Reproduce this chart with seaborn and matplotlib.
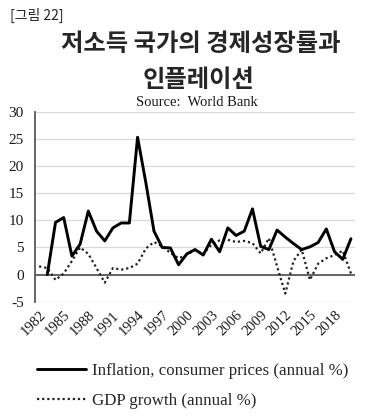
import numpy as np
import pandas as pd
import seaborn as sns
import matplotlib.pyplot as plt
from matplotlib.lines import Line2D

#%% data
years = list(range(1982, 2021))
inflation = [np.nan, 0.0, 9.6, 10.5, 3.4, 5.6, 11.7, 8.0, 6.2, 8.6,
             9.5, 9.5, 25.3, 17.0, 8.0, 5.0, 4.9, 1.8, 3.8, 4.6,
             3.6, 6.5, 4.2, 8.6, 7.2, 8.0, 12.1, 5.2, 4.6, 8.2,
             6.9, 5.7, 4.6, 5.1, 5.9, 8.4, 4.2, 2.8, 6.6]
gdp_growth = [1.5, 1.2, -1.0, 0.2, 2.5, 5.0, 3.8, 1.2, -1.5, 1.2,
              0.9, 1.2, 2.0, 4.8, 6.0, 5.2, 4.0, 3.0, 3.6, 4.6,
              3.8, 5.5, 6.3, 6.4, 6.0, 6.2, 5.8, 3.9, 6.7, 1.5,
              -3.5, 2.5, 4.6, -1.0, 2.0, 3.0, 3.6, 4.4, 0.2]
yticks = list(range(-5, 35, 5))
xtick_years = list(range(1982, 2019, 3))

df = pd.DataFrame({'Year': years, 'Inflation': inflation, 'GDP': gdp_growth})

#%% style
sns.set_theme(style='white')
plt.rcParams['font.family'] = ['Liberation Serif', 'DejaVu Serif']
plt.rcParams['axes.unicode_minus'] = False

fig = plt.figure(figsize=(3.71, 4.2), dpi=100)
ax = fig.add_axes([0.0943, 0.2817, 0.8627, 0.4523])

# gridlines + zero line
for v in yticks:
    ax.axhline(v, color='#d9d9d9', lw=0.9, zorder=0)
ax.axhline(0, color='#595959', lw=1.3, zorder=1)

sns.lineplot(data=df, x='Year', y='Inflation', ax=ax, color='black', lw=2.1,
             solid_joinstyle='round', solid_capstyle='round', zorder=3)
sns.lineplot(data=df, x='Year', y='GDP', ax=ax, color='#222222', lw=1.6,
             linestyle=(0, (1, 1.3)), dash_capstyle='butt', zorder=2)

ax.set_xlim(1981.5, 2020.5)
ax.set_ylim(-5, 30)
ax.set_yticks(yticks)
ax.set_yticklabels([str(v) for v in yticks], fontsize=11, color='#1a1a1a')
ax.set_xticks(xtick_years)
ax.set_xticklabels([str(y) for y in xtick_years], fontsize=10.5, rotation=45,
                   ha='right', va='top', rotation_mode='anchor', color='#1a1a1a')
ax.tick_params(axis='y', length=0, pad=8)
ax.tick_params(axis='x', length=0, pad=5)
ax.set_xlabel('')
ax.set_ylabel('')
for s in ['top', 'right', 'bottom']:
    ax.spines[s].set_visible(False)
ax.spines['left'].set_color('#595959')
ax.spines['left'].set_linewidth(1.3)

#%% titles
fig.text(0.027, 1 - 15/420, '[그림 22]', fontsize=10, ha='left', va='center',
         family=['Noto Sans CJK KR', 'DejaVu Sans'], color='#222222')
fig.text(0.542, 1 - 44/420, '저소득 국가의 경제성장률과', fontsize=17.5, fontweight='bold',
         ha='center', va='center', family=['Noto Sans CJK KR', 'DejaVu Sans'])
fig.text(0.534, 1 - 80/420, '인플레이션', fontsize=17.5, fontweight='bold',
         ha='center', va='center', family=['Noto Sans CJK KR', 'DejaVu Sans'])
fig.text(0.531, 1 - 103/420, 'Source:  World Bank', fontsize=10.5,
         ha='center', va='center', color='#1a1a1a')

#%% legend
handles = [Line2D([], [], color='black', lw=2.1),
           Line2D([], [], color='#222222', lw=1.6, linestyle=(0, (1, 1.3)))]
labels = ['Inflation, consumer prices (annual %)', 'GDP growth (annual %)']
fig.legend(handles, labels, loc='center left', bbox_to_anchor=(0.0997, 1 - 386/420),
           bbox_transform=fig.transFigure, frameon=False, fontsize=12.2,
           handlelength=2.9, handletextpad=0.35, labelspacing=0.8,
           borderpad=0, borderaxespad=0)

fig.savefig('out.png', dpi=100)
